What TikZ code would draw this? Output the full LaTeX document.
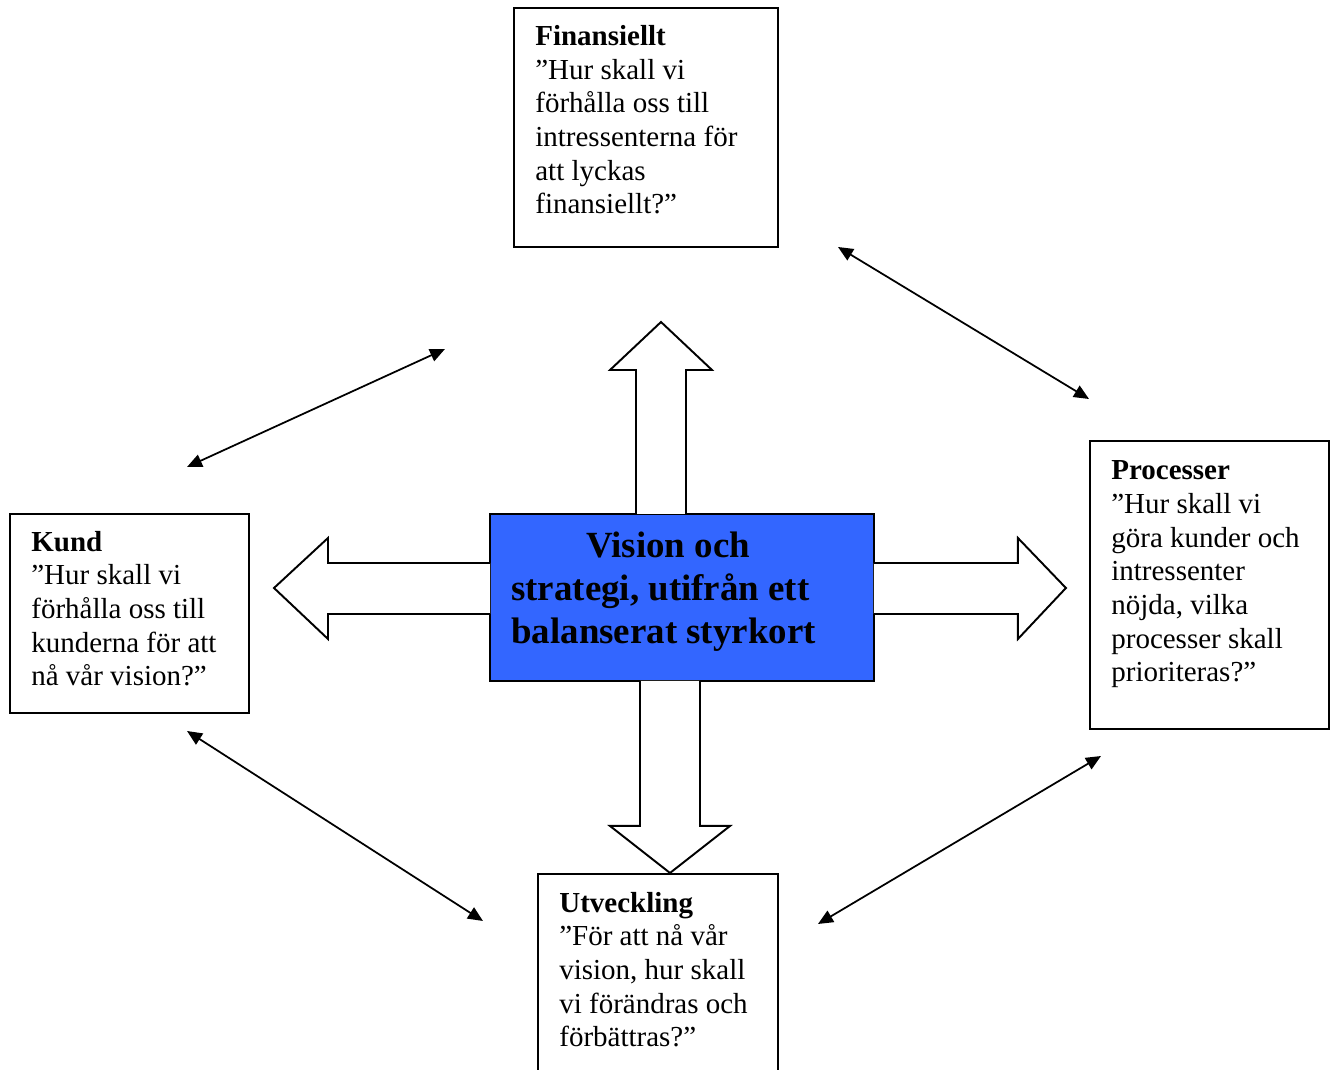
\documentclass[tikz,border=0pt]{standalone}
\usepackage{fontspec}
\setmainfont{Liberation Serif}
\usetikzlibrary{arrows.meta}
\definecolor{visionblue}{RGB}{51,102,255}

\begin{document}
\begin{tikzpicture}[x=0.02cm, y=-0.02cm,
  every node/.style={font=\fontsize{16.5}{19.2}\selectfont},
  persp/.style={draw, line width=1.1pt, fill=white, inner sep=0pt, outer sep=0pt, anchor=north west},
  persptext/.style={align=left, inner sep=0pt, anchor=base west},
  fatarrow/.style={draw, line width=1.1pt, fill=white, line join=miter},
  link/.style={{Triangle[length=0.3cm,width=0.26cm]}-{Triangle[length=0.3cm,width=0.26cm]}, line width=1pt}]
\useasboundingbox (0,0) rectangle (1330,1070);
\clip (0,0) rectangle (1330,1070);
% perspective boxes
\node[persp, minimum width=5.28cm, minimum height=4.78cm] (fin) at (514,8) {};
\node[persp, minimum width=4.78cm, minimum height=3.98cm] (kund) at (10,514) {};
\node[persp, minimum width=4.78cm, minimum height=5.76cm] (proc) at (1090,441) {};
\node[persp, minimum width=4.80cm, minimum height=4.20cm] (utv) at (538,874) {};
% vision in the middle
\node[persp, fill=visionblue, minimum width=7.68cm, minimum height=3.34cm] (vis) at (490,514) {};
% fat arrows out of the vision box
\draw[fatarrow] ([shift={(146,0)}]vis.north west) -- ++(0,-144) -- ++(-26,0) -- ++(51,-48) -- ++(51,48) -- ++(-26,0) -- ++(0,144);
\draw[fatarrow] ([shift={(0,49)}]vis.north west) -- ++(-162,0) -- ++(0,-25) -- ++(-54,50) -- ++(54,51) -- ++(0,-25) -- ++(162,0);
\draw[fatarrow] ([shift={(0,49)}]vis.north east) -- ++(144,0) -- ++(0,-25) -- ++(48,50) -- ++(-48,51) -- ++(0,-25) -- ++(-144,0);
\draw[fatarrow] ([shift={(150,0)}]vis.south west) -- ++(0,145) -- ++(-30,0) -- ++(60,47) -- ++(60,-47) -- ++(-30,0) -- ++(0,-145);
% texts (base = last line)
\node[persptext] (finT) at ([shift={(21,206)}]fin.north west) {\textbf{Finansiellt}\\”Hur skall vi\\förhålla oss till\\intressenterna för\\att lyckas\\finansiellt?”};
\node[persptext] (kundT) at ([shift={(21,172)}]kund.north west) {\textbf{Kund}\\”Hur skall vi\\förhålla oss till\\kunderna för att\\nå vår vision?”};
\node[persptext] (procT) at ([shift={(21,241)}]proc.north west) {\textbf{Processer}\\”Hur skall vi\\göra kunder och\\intressenter\\nöjda, vilka\\processer skall\\prioriteras?”};
\node[persptext] (utvT) at ([shift={(21,173)}]utv.north west) {\textbf{Utveckling}\\”För att nå vår\\vision, hur skall\\vi förändras och\\förbättras?”};
\node[persptext, font=\fontsize{21}{24.5}\selectfont\bfseries] (visT) at ([shift={(21,130)}]vis.north west) {\hspace*{1.5cm}Vision och\\strategi, utifrån ett\\balanserat styrkort};
% links between the perspectives
\coordinate (fp1) at (838,247);
\coordinate (fp2) at (1089,399);
\coordinate (kf1) at (187,467);
\coordinate (kf2) at (445,349);
\coordinate (ku1) at (187,731);
\coordinate (ku2) at (483,921);
\coordinate (pu1) at (818,924);
\coordinate (pu2) at (1101,756);
\draw[link] (fp1) -- (fp2);
\draw[link] (kf1) -- (kf2);
\draw[link] (ku1) -- (ku2);
\draw[link] (pu1) -- (pu2);
\end{tikzpicture}
\end{document}
